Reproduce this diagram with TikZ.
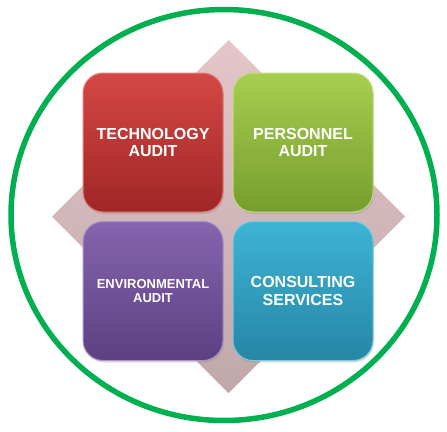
\documentclass[tikz,border=0pt]{standalone}
\usepackage{fontspec}
\setmainfont{Liberation Sans}
\usetikzlibrary{shadows}
\definecolor{ringgreen}{RGB}{0,176,80}
\definecolor{dtop}{RGB}{228,198,202}
\definecolor{dbot}{RGB}{192,168,170}
\definecolor{redtop}{RGB}{212,72,68}
\definecolor{redbot}{RGB}{160,38,38}
\definecolor{grntop}{RGB}{166,206,78}
\definecolor{grnbot}{RGB}{118,158,46}
\definecolor{purtop}{RGB}{134,100,174}
\definecolor{purbot}{RGB}{92,64,130}
\definecolor{teltop}{RGB}{62,180,212}
\definecolor{telbot}{RGB}{38,134,166}
\tikzset{
  tile/.style={rounded corners=20pt, minimum width=140pt, minimum height=139pt,
    inner sep=0pt, align=center, text=white, font=\bfseries\fontsize{16}{17.5}\selectfont,
    drop shadow={opacity=0.25, shadow xshift=1pt, shadow yshift=-2pt}},
}
\begin{document}
\begin{tikzpicture}[x=1pt,y=-1pt]
\useasboundingbox (0,0) rectangle (447,431);
% diamond background
\shade[top color=dtop, bottom color=dbot]
  (228.5,40) -- (405,216.5) -- (228.5,393) -- (52,216.5) -- cycle;
% ring
\draw[ringgreen, line width=5.5pt] (224,215) ellipse [x radius=213, y radius=205.5];
% tiles
\node[tile, top color=redtop, bottom color=redbot, draw=redtop!70!white, line width=1pt]
  (tech) at (153,142.5) {TECHNOLOGY\\AUDIT};
\node[tile, top color=grntop, bottom color=grnbot, draw=grntop!70!white, line width=1pt]
  (pers) at (303,142.5) {PERSONNEL\\AUDIT};
\node[tile, top color=purtop, bottom color=purbot, draw=purtop!70!white, line width=1pt,
  font=\bfseries\fontsize{13}{14}\selectfont]
  (env) at (153,291) {ENVIRONMENTAL\\AUDIT};
\node[tile, top color=teltop, bottom color=telbot, draw=teltop!70!white, line width=1pt]
  (cons) at (303,291) {CONSULTING\\SERVICES};
\end{tikzpicture}
\end{document}
